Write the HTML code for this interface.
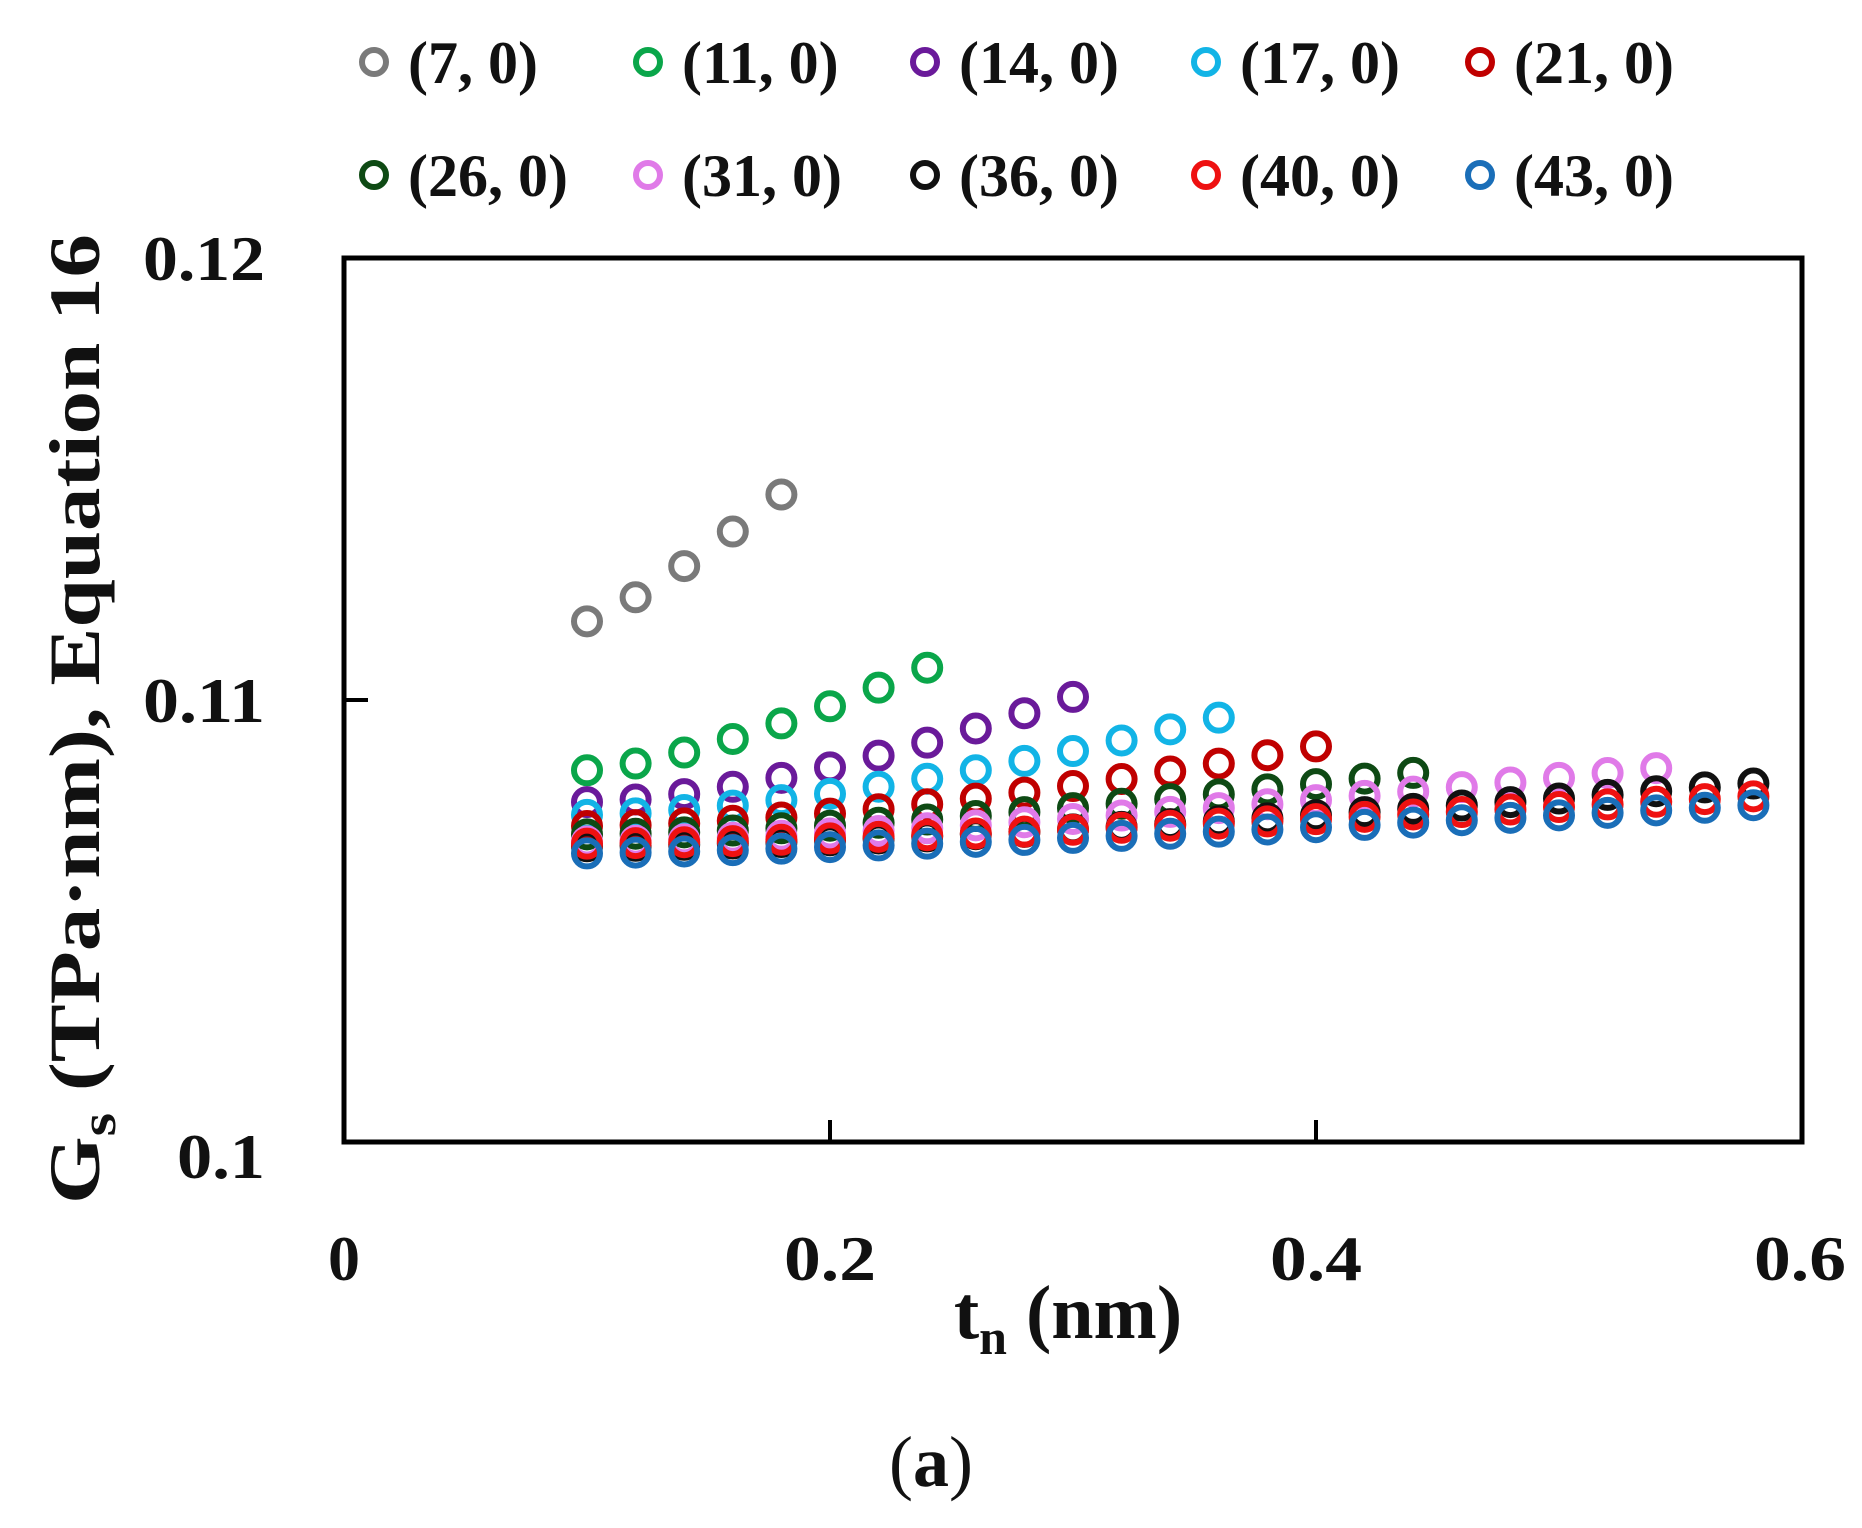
<!DOCTYPE html>
<html><head><meta charset="utf-8"><style>
html,body{margin:0;padding:0;background:#fff;}
svg{display:block;}
text{font-family:"Liberation Serif",serif;font-weight:bold;fill:#111;}
</style></head><body>
<svg id="s" width="1862" height="1528" xmlns="http://www.w3.org/2000/svg">
<rect x="0" y="0" width="1862" height="1528" fill="#fff"/>
<rect x="344" y="258" width="1458" height="884" fill="none" stroke="#000" stroke-width="5"/>
<line x1="344" y1="700" x2="368" y2="700" stroke="#000" stroke-width="4"/>
<line x1="830" y1="1142" x2="830" y2="1120" stroke="#000" stroke-width="4"/>
<line x1="1316" y1="1142" x2="1316" y2="1120" stroke="#000" stroke-width="4"/>
<g font-size="64" text-anchor="end">
<text x="265" y="280" textLength="122" lengthAdjust="spacingAndGlyphs">0.12</text>
<text x="265" y="722" textLength="122" lengthAdjust="spacingAndGlyphs">0.11</text>
<text x="265" y="1178" textLength="88" lengthAdjust="spacingAndGlyphs">0.1</text>
</g>
<g font-size="64" text-anchor="middle">
<text x="344" y="1280">0</text>
<text x="830" y="1280" textLength="92" lengthAdjust="spacingAndGlyphs">0.2</text>
<text x="1316" y="1280" textLength="92" lengthAdjust="spacingAndGlyphs">0.4</text>
<text x="1800" y="1280" textLength="92" lengthAdjust="spacingAndGlyphs">0.6</text>
</g>
<text x="1068" y="1338" font-size="76" text-anchor="middle">t<tspan font-size="50" dy="16">n</tspan><tspan dy="-16"> (nm)</tspan></text>
<text transform="translate(99,719) rotate(-90)" font-size="72" text-anchor="middle" textLength="970" lengthAdjust="spacingAndGlyphs">G<tspan font-size="50" dy="16">s</tspan><tspan dy="-16"> (TPa·nm),  Equation 16</tspan></text>
<text x="931" y="1486" font-size="72" text-anchor="middle" style="font-weight:normal">(<tspan font-weight="bold">a</tspan>)</text>
<g id="leg" font-size="60"></g>
<g id="pts"></g>
</svg>
<script>
var ns="http://www.w3.org/2000/svg";
var X=function(x){return 344+x*2430;};
var Y=function(v){return 258+(0.12-v)*44200;};
var series=[
["(7, 0)","#7a7a7a",0.18,0.11178,0.11465,1.2],
["(11, 0)","#0aa64a",0.24,0.10841,0.11073,1.4],
["(14, 0)","#6a1a9a",0.30,0.10769,0.11007,1.6],
["(17, 0)","#12b4e6",0.36,0.10740,0.10960,1.6],
["(21, 0)","#c00000",0.40,0.10715,0.10895,1.7],
["(26, 0)","#0e4a14",0.44,0.10696,0.10835,1.6],
["(31, 0)","#e07ae8",0.54,0.10680,0.10846,1.5],
["(36, 0)","#111111",0.58,0.10669,0.10811,1.5],
["(40, 0)","#ee1111",0.58,0.10675,0.10782,1.4],
["(43, 0)","#1a6eb8",0.58,0.10653,0.10762,1.3]
];
var pts=document.getElementById("pts"),leg=document.getElementById("leg");
var lx=[374,648,925,1206,1480],ly=[62,175];
series.forEach(function(s,i){
  var n=Math.round((s[2]-0.1)/0.02);
  for(var k=0;k<=n;k++){
    var x=0.1+0.02*k,t=k/n;
    var v=s[3]+(s[4]-s[3])*Math.pow(t,s[5]);
    var c=document.createElementNS(ns,"circle");
    c.setAttribute("cx",X(x));c.setAttribute("cy",Y(v));c.setAttribute("r",13);
    c.setAttribute("fill","none");c.setAttribute("stroke",s[1]);c.setAttribute("stroke-width",6);
    pts.appendChild(c);
  }
  var cx=lx[i%5],cy=ly[Math.floor(i/5)];
  var c2=document.createElementNS(ns,"circle");
  c2.setAttribute("cx",cx);c2.setAttribute("cy",cy);c2.setAttribute("r",12);
  c2.setAttribute("fill","none");c2.setAttribute("stroke",s[1]);c2.setAttribute("stroke-width",6);
  leg.appendChild(c2);
  var tx=document.createElementNS(ns,"text");
  tx.setAttribute("x",cx+34);tx.setAttribute("y",cy+21);tx.textContent=s[0];
  leg.appendChild(tx);
});
</script>
</body></html>
